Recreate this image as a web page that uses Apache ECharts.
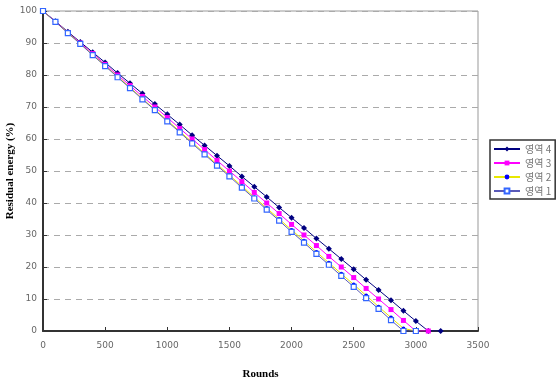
<!DOCTYPE html>
<html>
<head>
    <meta charset="utf-8">
    <title>Residual energy</title>
    <script src="https://cdn.jsdelivr.net/npm/echarts@6/dist/echarts.min.js"></script>
    <style>
        html, body { margin: 0; padding: 0; background: #fff; }
    </style>
</head>
<body>
<div id="main" style="width: 560px;height:382px;"></div>
<script type="text/javascript">
    // rounds, step 100
    var rounds = [0, 100, 200, 300, 400, 500, 600, 700, 800, 900, 1000, 1100, 1200, 1300, 1400, 1500,
        1600, 1700, 1800, 1900, 2000, 2100, 2200, 2300, 2400, 2500, 2600, 2700, 2800, 2900, 3000, 3100, 3200];

    var names = ['영역 4', '영역 3', '영역 2', '영역 1'];

    var area4 = [100, 96.8, 93.5, 90.3, 87.1, 83.9, 80.6, 77.4, 74.2, 70.9, 67.7, 64.5, 61.2, 58.0, 54.8, 51.6,
        48.3, 45.1, 41.9, 38.6, 35.4, 32.2, 28.9, 25.7, 22.5, 19.3, 16.0, 12.8, 9.6, 6.3, 3.1, 0, 0];
    var area3 = [100, 96.7, 93.3, 90.0, 86.7, 83.3, 80.0, 76.7, 73.3, 70.0, 66.7, 63.3, 60.0, 56.7, 53.3, 50.0,
        46.7, 43.3, 40.0, 36.7, 33.3, 30.0, 26.7, 23.3, 20.0, 16.7, 13.3, 10.0, 6.7, 3.3, 0, 0];
    var area2 = [100, 96.6, 93.2, 89.8, 86.3, 82.9, 79.5, 76.1, 72.6, 69.2, 65.8, 62.4, 59.0, 55.5, 52.1, 48.7,
        45.3, 41.8, 38.4, 35.0, 31.6, 28.2, 24.7, 21.3, 17.9, 14.5, 11.1, 7.6, 4.2, 0.8, 0];
    var area1 = [100, 96.6, 93.1, 89.7, 86.2, 82.8, 79.3, 75.9, 72.4, 69.0, 65.5, 62.1, 58.6, 55.2, 51.7, 48.3,
        44.8, 41.4, 37.9, 34.5, 31.0, 27.6, 24.1, 20.7, 17.2, 13.8, 10.3, 6.9, 3.4, 0, 0];

    function pairs(vals) {
        return vals.map(function (v, i) { return [rounds[i], v]; });
    }

    var myChart = echarts.init(document.getElementById('main'));
    var labelFont = { color: '#666', fontSize: 9, fontFamily: 'DejaVu Sans' };

    var option = {
        animation: false,
        grid: {
            left: 43, right: 82, top: 11, bottom: 51,
            outerBoundsMode: 'none',
            containLabel: false,
            show: true,
            borderColor: '#999',
            borderWidth: 1
        },
        legend: {
            data: names,
            orient: 'vertical',
            left: 490,
            top: 140,
            padding: [4, 4, 3, 3],
            itemGap: 4,
            itemWidth: 26,
            itemHeight: 6,
            borderColor: '#333',
            borderWidth: 1.5,
            textStyle: { color: '#777', fontSize: 10, fontFamily: 'Noto Sans CJK KR', lineHeight: 10 }
        },
        xAxis: {
            type: 'value',
            min: 0,
            max: 3500,
            interval: 500,
            name: 'Rounds',
            nameLocation: 'middle',
            nameGap: 38,
            nameMoveOverlap: false,
            nameTextStyle: { color: '#000', fontSize: 11, fontWeight: 'bold', fontFamily: 'Liberation Serif' },
            axisLine: { lineStyle: { color: '#333', width: 2 } },
            axisTick: { inside: true, length: 4, lineStyle: { color: '#333' } },
            axisLabel: Object.assign({ margin: 10, formatter: function (v) { return String(v); } }, labelFont),
            splitLine: { show: false }
        },
        yAxis: {
            type: 'value',
            min: 0,
            max: 100,
            interval: 10,
            name: 'Residual energy (%)',
            nameLocation: 'middle',
            nameGap: 27,
            nameMoveOverlap: false,
            nameTextStyle: { color: '#000', fontSize: 11, fontWeight: 'bold', fontFamily: 'Liberation Serif' },
            axisLine: { show: true, lineStyle: { color: '#333', width: 2 } },
            axisTick: { show: true, inside: true, length: 4, lineStyle: { color: '#333' } },
            axisLabel: Object.assign({ margin: 6 }, labelFont),
            splitLine: { show: true, lineStyle: { color: '#aaa', type: [6, 5] } }
        },
        series: [
            {
                name: names[0],
                type: 'line',
                data: pairs(area4),
                symbol: 'diamond',
                symbolSize: 6,
                lineStyle: { color: '#000080', width: 1 },
                itemStyle: { color: '#000080' }
            },
            {
                name: names[1],
                type: 'line',
                data: pairs(area3),
                symbol: 'rect',
                symbolSize: 5,
                lineStyle: { color: '#ff00ff', width: 1 },
                itemStyle: { color: '#ff00ff' }
            },
            {
                name: names[2],
                type: 'line',
                data: pairs(area2),
                symbol: 'circle',
                symbolSize: 4,
                lineStyle: { color: '#e8e800', width: 1 },
                itemStyle: { color: '#0000ff' }
            },
            {
                name: names[3],
                type: 'line',
                data: pairs(area1),
                symbol: 'rect',
                symbolSize: 5,
                lineStyle: { color: '#5a5ab8', width: 1 },
                itemStyle: { color: '#fff', borderColor: '#3366ff', borderWidth: 1.2 }
            }
        ]
    };
    myChart.setOption(option);
</script>
</body>
</html>
